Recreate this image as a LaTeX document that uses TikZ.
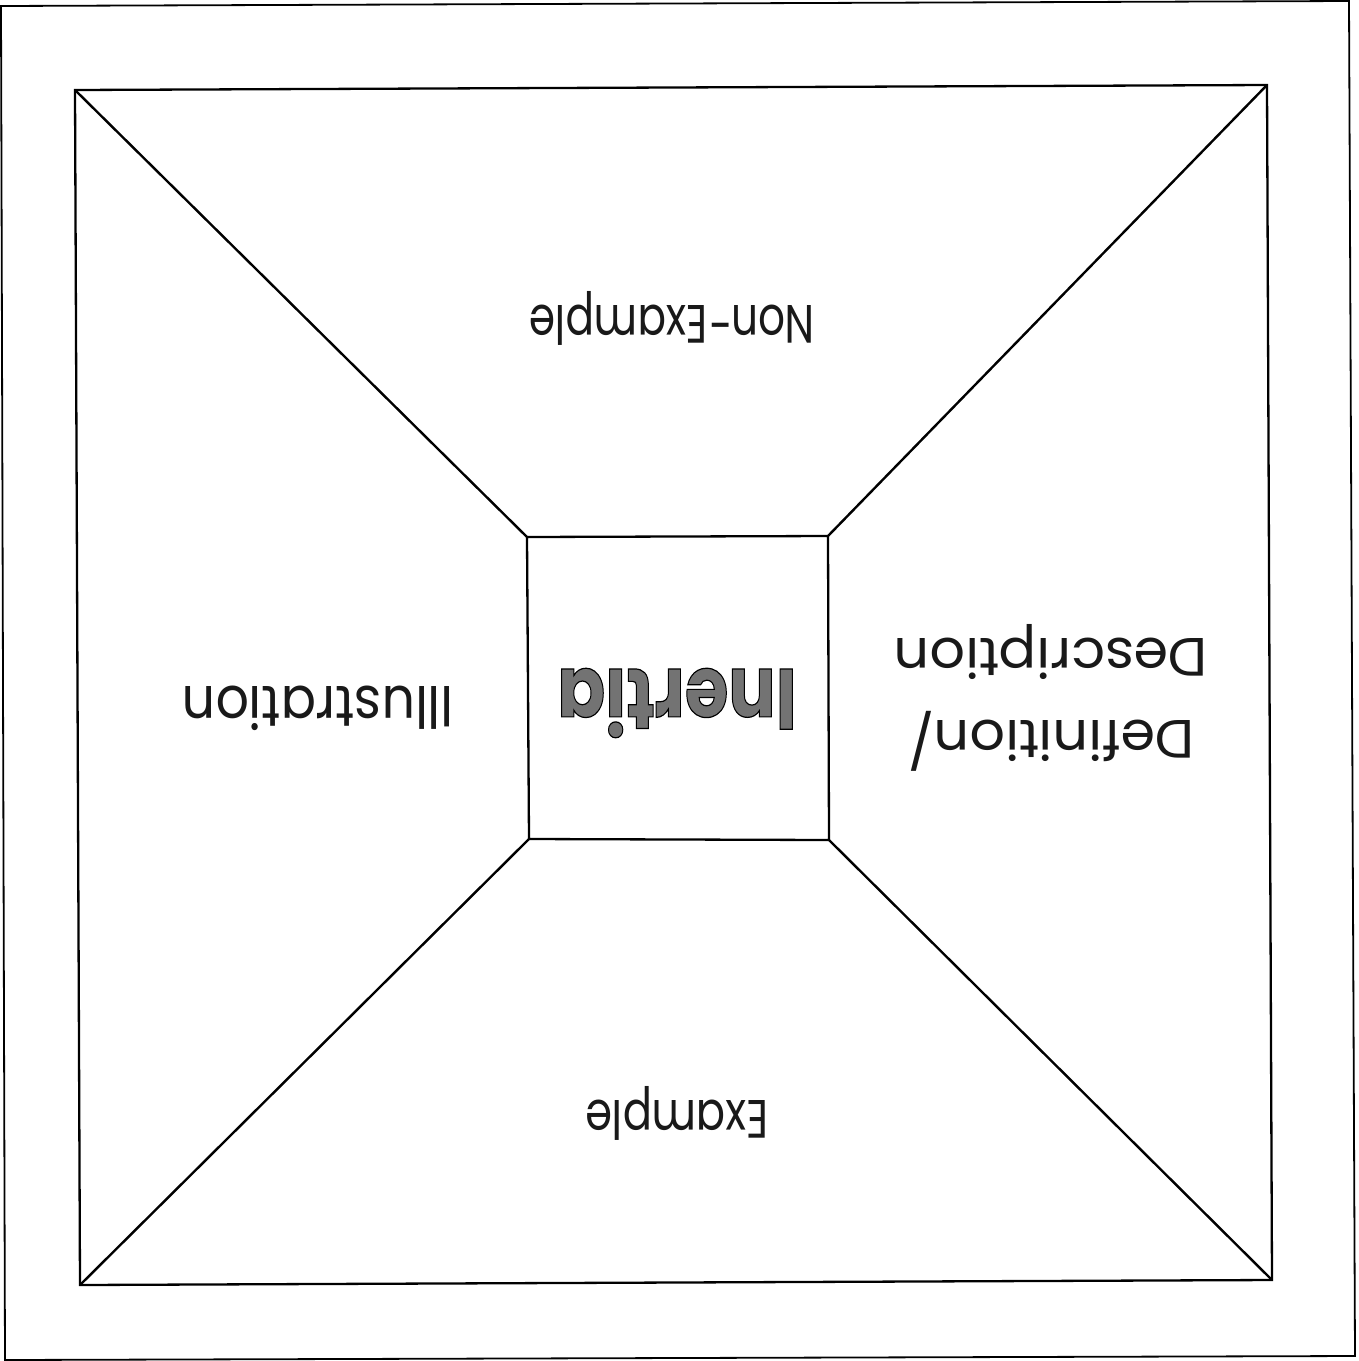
\documentclass[tikz,border=0pt]{standalone}
\usepackage{fontspec}
\setmainfont{Poppins}
\usepackage{graphicx}
\begin{document}
\begin{tikzpicture}[x=1pt,y=-1pt,
  frame/.style={draw=black,line width=2.3pt,line join=miter},
  edge/.style={draw=black,line width=2.4pt},
  hand/.style={rotate=180,inner sep=0pt,font=\fontsize{54}{82}\selectfont,text=black!90},
  title/.style={rotate=180,inner sep=0pt,font=\fontsize{86}{90}\selectfont\bfseries,text=black!55}]
\useasboundingbox (0,0) rectangle (1359,1361);
% page frame
\coordinate (P1) at (1,6);
\coordinate (P2) at (1349,1);
\coordinate (P3) at (1355,1356);
\coordinate (P4) at (5,1360);
\draw[frame,line width=1.8pt] (P1) -- (P2) -- (P3) -- (P4) -- cycle;
% outer square
\coordinate (A) at (75,90);
\coordinate (B) at (1267,85);
\coordinate (C) at (1272,1280);
\coordinate (D) at (80,1285);
% centre square
\coordinate (a) at (527,537);
\coordinate (b) at (828,536);
\coordinate (c) at (829,840);
\coordinate (d) at (529,839);
\draw[frame] (A) -- (B) -- (C) -- (D) -- cycle;
\draw[frame] (a) -- (b) -- (c) -- (d) -- cycle;
\draw[edge] (A) -- (a);
\draw[edge] (B) -- (b);
\draw[edge] (C) -- (c);
\draw[edge] (D) -- (d);
% labels (printed upside down)
\node[title] (inertia) at (677,703) {\special{pdf:code 2 Tr 1.2 w 0 G}\scalebox{0.82}[1]{Inertia}\special{pdf:code 0 Tr}};
\node[hand] (nonex) at (672,318) {\scalebox{0.78}[1]{Non-Example}};
\node[hand] (ex) at (677,1113) {\scalebox{0.8}[1]{Example}};
\node[hand,font=\fontsize{58}{82}\selectfont] (ill) at (318,708) {\scalebox{0.9}[1]{Illustration}};
\node[hand,align=center] (def) at (1051,698) {\scalebox{1.03}[1]{Definition/}\\\scalebox{1.03}[1]{Description}};
\end{tikzpicture}
\end{document}
